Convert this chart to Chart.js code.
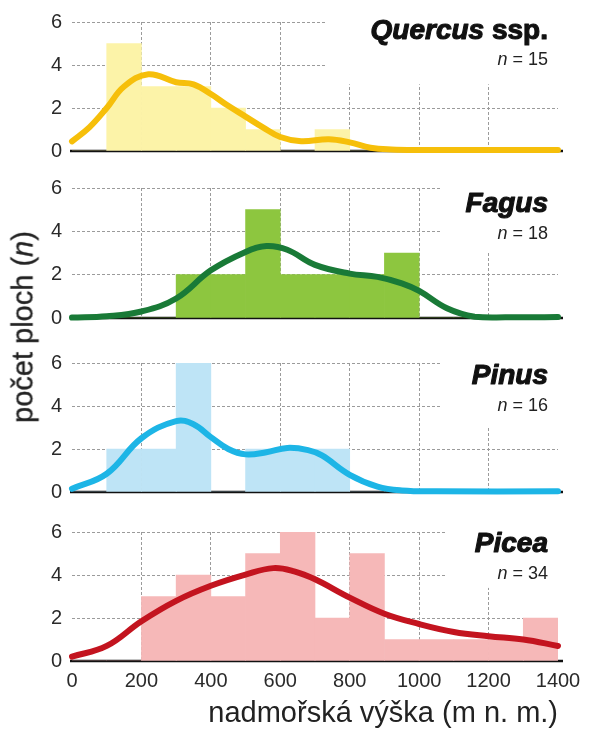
<!DOCTYPE html>
<html>
<head>
<meta charset="utf-8">
<script src="https://cdn.jsdelivr.net/npm/chart.js@4.4.1/dist/chart.umd.min.js"></script>
<style>
  html, body { margin: 0; padding: 0; background: #fff; }
  #wrap { position: relative; width: 609px; height: 733px; overflow: hidden; }
  #wrap canvas { position: absolute; left: 0; }
  #ytitle {
    position: absolute; left: 23px; top: 327px;
    transform: translate(-50%, -50%) rotate(-90deg);
    font: 29px "Liberation Sans", Arial, sans-serif; color: #222; white-space: nowrap;
    -webkit-text-stroke: 0.3px #222;
  }
</style>
</head>
<body>
<div id="wrap">
  <canvas id="p0" width="609" height="181" style="top:0px"></canvas>
  <canvas id="p1" width="609" height="182" style="top:166px"></canvas>
  <canvas id="p2" width="609" height="181" style="top:341px"></canvas>
  <canvas id="p3" width="609" height="223" style="top:510px"></canvas>
  <div id="ytitle">počet ploch (<i>n</i>)</div>
</div>
<script>
// Histogram bins: lower edge of each 100 m elevation class
const binStarts = [0, 100, 200, 300, 400, 500, 600, 700, 800, 900, 1000, 1100, 1200, 1300];
const binWidth = 100;

// Plot counts per elevation class
const quercusCounts = [0, 5, 3, 3, 2, 1, 0, 1, 0, 0, 0, 0, 0, 0];
const fagusCounts   = [0, 0, 0, 2, 2, 5, 2, 2, 2, 3, 0, 0, 0, 0];
const pinusCounts   = [0, 2, 2, 6, 0, 2, 2, 2, 0, 0, 0, 0, 0, 0];
const piceaCounts   = [0, 0, 3, 4, 3, 5, 6, 2, 5, 1, 1, 1, 1, 2];

// Smoothed density curves (scaled to counts)
const quercusCurveX = [0, 50, 100, 150, 220, 300, 350, 400, 450, 500, 550, 600, 660, 740, 800, 860, 920, 1000, 1400];
const quercusCurveY = [0.45, 1.1, 2.0, 3.0, 3.57, 3.2, 3.1, 2.65, 2.1, 1.6, 1.1, 0.65, 0.45, 0.55, 0.4, 0.15, 0.07, 0.05, 0.05];
const fagusCurveX = [0, 100, 200, 300, 400, 500, 560, 620, 700, 800, 880, 950, 1000, 1080, 1160, 1250, 1400];
const fagusCurveY = [0.02, 0.08, 0.3, 0.9, 2.2, 3.05, 3.32, 3.15, 2.45, 2.05, 1.9, 1.6, 1.25, 0.45, 0.06, 0.03, 0.05];
const pinusCurveX = [0, 100, 200, 300, 350, 400, 450, 500, 560, 620, 680, 720, 800, 880, 950, 1050, 1400];
const pinusCurveY = [0.15, 0.85, 2.5, 3.3, 3.15, 2.55, 2.0, 1.75, 1.85, 2.05, 1.95, 1.7, 0.8, 0.25, 0.07, 0.03, 0.03];
const piceaCurveX = [0, 100, 200, 300, 400, 500, 580, 640, 700, 800, 900, 1000, 1100, 1200, 1300, 1400];
const piceaCurveY = [0.2, 0.7, 1.85, 2.8, 3.5, 4.02, 4.32, 4.17, 3.8, 2.95, 2.2, 1.72, 1.35, 1.15, 1.0, 0.7];

// Axis ticks
const xTicks = [0, 200, 400, 600, 800, 1000, 1200, 1400];
const yTicks = [0, 2, 4, 6];

const FONT = '"Liberation Sans", Arial, sans-serif';
const GRID = '#9b9b9b';

const panels = [
  { id: 'p0', name: 'Quercus', suffix: ' ssp.', counts: quercusCounts, cx: quercusCurveX, cy: quercusCurveY,
    line: '#F6BF0A', fill: '#FCF3A8', boxLeft: 325, boxTop: 3.1, titleDy: 17, nDy: 43 },
  { id: 'p1', name: 'Fagus', suffix: '', counts: fagusCounts, cx: fagusCurveX, cy: fagusCurveY,
    line: '#197A37', fill: '#8DC63F', boxLeft: 440, boxTop: 3.0, titleDy: 24, nDy: 51 },
  { id: 'p2', name: 'Pinus', suffix: '', counts: pinusCounts, cx: pinusCurveX, cy: pinusCurveY,
    line: '#1DB5E6', fill: '#BEE4F6', boxLeft: 440, boxTop: 3.05, titleDy: 21, nDy: 48 },
  { id: 'p3', name: 'Picea', suffix: '', counts: piceaCounts, cx: piceaCurveX, cy: piceaCurveY,
    line: '#C3141F', fill: '#F6B8B8', boxLeft: 447, boxTop: 3.4, titleDy: 20, nDy: 47, last: true }
];

// Label block (white patch over the grid, species name and sample size) plus the zero baseline
const panelDecor = {
  id: 'panelDecor',
  beforeDatasetsDraw(chart, args, o) {
    const { ctx, chartArea } = chart;
    const y = chart.scales.y;
    ctx.save();
    ctx.fillStyle = '#fff';
    ctx.fillRect(o.boxLeft, 0, chart.width - o.boxLeft, y.getPixelForValue(o.boxTop));
    const y0 = y.getPixelForValue(0);
    ctx.strokeStyle = '#111';
    ctx.lineWidth = 2.5;
    ctx.beginPath();
    ctx.moveTo(chartArea.left - 2, y0);
    ctx.lineTo(chartArea.right + 5, y0);
    ctx.stroke();
    ctx.restore();
  },
  afterDatasetsDraw(chart, args, o) {
    const { ctx, chartArea } = chart;
    const right = 548;
    ctx.save();
    ctx.fillStyle = '#111';
    ctx.strokeStyle = '#111';
    ctx.lineWidth = 1.1;
    ctx.lineJoin = 'round';
    ctx.textBaseline = 'alphabetic';
    ctx.textAlign = 'left';
    const ty = chartArea.top + o.titleDy;
    const fName = 'italic bold 28px ' + FONT;
    const fSuffix = 'bold 28px ' + FONT;
    ctx.font = fSuffix;
    const wSuf = o.suffix ? ctx.measureText(o.suffix).width : 0;
    ctx.font = fName;
    const wName = ctx.measureText(o.name).width;
    const x0 = right - wSuf - wName;
    ctx.fillText(o.name, x0, ty);
    ctx.strokeText(o.name, x0, ty);
    if (o.suffix) {
      ctx.font = fSuffix;
      ctx.fillText(o.suffix, x0 + wName, ty);
      ctx.strokeText(o.suffix, x0 + wName, ty);
    }

    const ny = chartArea.top + o.nDy;
    const rest = ' = ' + o.n;
    ctx.font = '18px ' + FONT;
    ctx.fillStyle = '#222';
    const wRest = ctx.measureText(rest).width;
    ctx.fillText(rest, right - wRest, ny);
    ctx.font = 'italic 18px ' + FONT;
    const wN = ctx.measureText('n').width;
    ctx.fillText('n', right - wRest - wN, ny);
    ctx.restore();
  }
};

panels.forEach(p => {
  const bars = binStarts.map((b, i) => ({ x: b + binWidth / 2, y: p.counts[i] }));
  const curve = p.cx.map((x, i) => ({ x, y: p.cy[i] }));
  const n = p.counts.reduce((a, b) => a + b, 0);

  new Chart(document.getElementById(p.id), {
    type: 'bar',
    data: {
      datasets: [
        { type: 'line', data: curve, borderColor: p.line, borderWidth: 6, pointRadius: 0,
          tension: 0.4, borderCapStyle: 'round', borderJoinStyle: 'round',
          fill: false, order: 0, clip: false },
        { type: 'bar', data: bars, backgroundColor: p.fill, borderWidth: 0,
          barPercentage: 1, categoryPercentage: 1, order: 1 }
      ]
    },
    options: {
      responsive: false,
      animation: false,
      devicePixelRatio: 1,
      events: [],
      layout: { padding: { top: 20, right: 51, bottom: 0, left: 0 } },
      plugins: {
        legend: { display: false },
        tooltip: { enabled: false },
        panelDecor: { boxLeft: p.boxLeft, boxTop: p.boxTop, titleDy: p.titleDy, nDy: p.nDy,
                      name: p.name, suffix: p.suffix, n }
      },
      scales: {
        x: {
          type: 'linear', min: 0, max: 1400, offset: false,
          afterBuildTicks: s => { s.ticks = xTicks.map(v => ({ value: v })); },
          afterFit: s => { s.height = p.last ? 72 : 30; },
          ticks: { display: !!p.last, color: '#2a2a2a', padding: 8, font: { family: FONT, size: 20 },
                   maxRotation: 0, autoSkip: false, callback: v => String(v) },
          grid: { offset: false, drawTicks: false, lineWidth: 1,
                  color: c => (c.tick && (c.tick.value === 0 || c.tick.value === 1400)) ? 'rgba(0,0,0,0)' : GRID },
          border: { display: false, dash: [3, 2] },
          title: { display: !!p.last, text: 'nadmořská výška (m n. m.)', align: 'end', color: '#222',
                   font: { family: FONT, size: 29 }, padding: { top: 0, bottom: 2 } }
        },
        y: {
          min: 0, max: 6,
          afterBuildTicks: s => { s.ticks = yTicks.map(v => ({ value: v })); },
          afterFit: s => { s.width = 72; },
          ticks: { color: '#2a2a2a', padding: 10, font: { family: FONT, size: 20 }, callback: v => String(v) },
          grid: { drawTicks: false, lineWidth: 1,
                  color: c => (c.tick && c.tick.value === 0) ? 'rgba(0,0,0,0)' : GRID },
          border: { display: false, dash: [3, 2] }
        }
      }
    },
    plugins: [panelDecor]
  });
});
</script>
</body>
</html>
